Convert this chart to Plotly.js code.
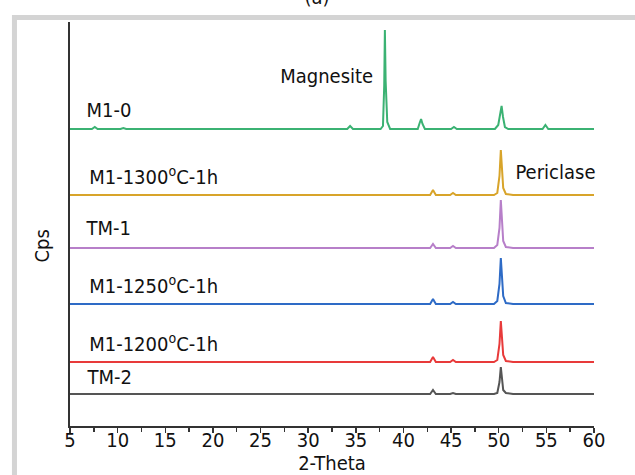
<!DOCTYPE html>
<html>
<head>
<meta charset="utf-8">
<script src="https://cdn.plot.ly/plotly-3.0.1.min.js"></script>
<style>
html,body{margin:0;padding:0;background:#fff;}
#chart{width:635px;height:475px;}
#chart text{font-stretch:condensed;}
</style>
</head>
<body>
<div id="chart"></div>
<script>
// Series names
const seriesNames = ["M1-0", "M1-1300ºC-1h", "TM-1", "M1-1250ºC-1h", "M1-1200ºC-1h", "TM-2"];

// M1-0 (green, offset trace)
const xM10 = [5, 7.3, 7.6, 7.9, 10.3, 10.6, 10.9, 14, 18, 22, 26, 30, 34.1, 34.4, 34.7, 36, 37.6, 37.85, 37.98, 38.05, 38.13, 38.3, 38.6, 40, 41.5, 41.7, 41.85, 42.0, 42.25, 43.5, 45.0, 45.3, 45.6, 47, 49.6, 49.95, 50.15, 50.3, 50.45, 50.65, 51, 53, 54.6, 54.9, 55.2, 57, 60];
const yM10 = [297, 297, 299, 297, 297, 298, 297, 297, 297, 297, 297, 297, 297, 300, 297, 297, 297, 300, 340, 396, 345, 304, 297, 297, 297, 303, 307, 302, 297, 297, 297, 299, 297, 297, 297, 301, 312, 320, 309, 299, 297, 297, 297, 301, 297, 297, 297];

// Shared x grid for the calcined samples
const xCal = [5, 10, 15, 20, 25, 30, 35, 40, 42.8, 43.1, 43.4, 44.9, 45.2, 45.5, 49.5, 49.85, 50.08, 50.22, 50.32, 50.47, 50.75, 51.5, 55, 60];
const yM1300 = [231, 231, 231, 231, 231, 231, 231, 231, 231, 236, 231, 231, 233, 231, 231, 233, 250, 276, 262, 238, 232, 231, 231, 231];
const yTM1   = [178, 178, 178, 178, 178, 178, 178, 178, 178, 182, 178, 178, 180, 178, 178, 181, 198, 226, 210, 185, 179, 178, 178, 178];
const yM1250 = [122, 122, 122, 122, 122, 122, 122, 122, 122, 127, 122, 122, 124, 122, 122, 125, 142, 168, 155, 130, 123, 122, 122, 122];
const yM1200 = [64, 64, 64, 64, 64, 64, 64, 64, 64, 69, 64, 64, 66, 64, 64, 66, 82, 105, 94, 71, 65, 64, 64, 64];
const yTM2   = [32, 32, 32, 32, 32, 32, 32, 32, 32, 36, 32, 32, 33, 32, 32, 33, 44, 59, 50, 36, 33, 32, 32, 32];

// Axis ticks
const xTickVals = [5, 10, 15, 20, 25, 30, 35, 40, 45, 50, 55, 60];

const colors = ["#3bb273", "#d8a42a", "#b77fc9", "#2e6bc6", "#e83a3a", "#555555"];
const xs = [xM10, xCal, xCal, xCal, xCal, xCal];
const ys = [yM10, yM1300, yTM1, yM1250, yM1200, yTM2];

const font = "DejaVu Sans, sans-serif";
const fs = 20;

const traces = seriesNames.map((n, i) => ({
  x: xs[i], y: ys[i], name: n, type: "scatter", mode: "lines",
  line: {color: colors[i], width: 2}, showlegend: false, hoverinfo: "skip"
}));

// label centres (x, y in data units)
const labelX = [9.09, 13.76, 8.94, 13.76, 13.76, 9.09];
const labelY = [316, 250, 198, 141, 83, 49];
const labelText = ["M1-0", "M1-1300<sup>o</sup>C-1h", "TM-1", "M1-1250<sup>o</sup>C-1h", "M1-1200<sup>o</sup>C-1h", "TM-2"];

const annotations = labelText.map((t, i) => ({
  x: labelX[i], y: labelY[i], xref: "x", yref: "y", text: t, showarrow: false,
  xanchor: "center", yanchor: "middle", font: {family: font, size: fs, color: "#111"}
}));
annotations.push({x: 31.9, y: 350, xref: "x", yref: "y", text: "Magnesite", showarrow: false,
  xanchor: "center", yanchor: "middle", font: {family: font, size: fs, color: "#111"}});
annotations.push({x: 56.0, y: 254, xref: "x", yref: "y", text: "Periclase", showarrow: false,
  xanchor: "center", yanchor: "middle", font: {family: font, size: fs, color: "#111"}});
annotations.push({x: -0.053, y: 0.445, xref: "paper", yref: "paper", text: "Cps", showarrow: false,
  textangle: -90, xanchor: "center", yanchor: "middle", font: {family: font, size: fs, color: "#111"}});
annotations.push({x: 0.471, y: 1.062, xref: "paper", yref: "paper", text: "(a)", showarrow: false,
  xanchor: "center", yanchor: "middle", font: {family: font, size: fs, color: "#111"}});

const layout = {
  width: 635, height: 475,
  margin: {l: 70, r: 41, t: 22, b: 49},
  paper_bgcolor: "#fff", plot_bgcolor: "#fff",
  showlegend: false,
  xaxis: {
    range: [5, 60], tickvals: xTickVals, ticktext: xTickVals.map(String),
    ticks: "outside", ticklen: 5, tickwidth: 1.5, tickcolor: "#333",
    minor: {dtick: 2.5, tick0: 5, ticks: "outside", ticklen: 4, tickwidth: 1.5, tickcolor: "#333"},
    showline: true, linecolor: "#333", linewidth: 2, showgrid: false, zeroline: false,
    ticklabelstandoff: -10,
    tickfont: {family: font, size: fs, color: "#111"},
    title: {text: "2-Theta", font: {family: font, size: fs, color: "#111"}, standoff: 6}
  },
  yaxis: {
    range: [0, 404], showticklabels: false, ticks: "", showline: true, linecolor: "#333", linewidth: 2.5,
    showgrid: false, zeroline: false
  },
  annotations: annotations,
  shapes: [
    {type: "rect", xref: "paper", yref: "paper", x0: -0.106, x1: 1.2, y0: -0.2, y1: 1.0111,
     line: {color: "#d4d4d4", width: 5}, fillcolor: "rgba(0,0,0,0)", layer: "below"}
  ]
};

Plotly.newPlot("chart", traces, layout, {staticPlot: true});
</script>
</body>
</html>
